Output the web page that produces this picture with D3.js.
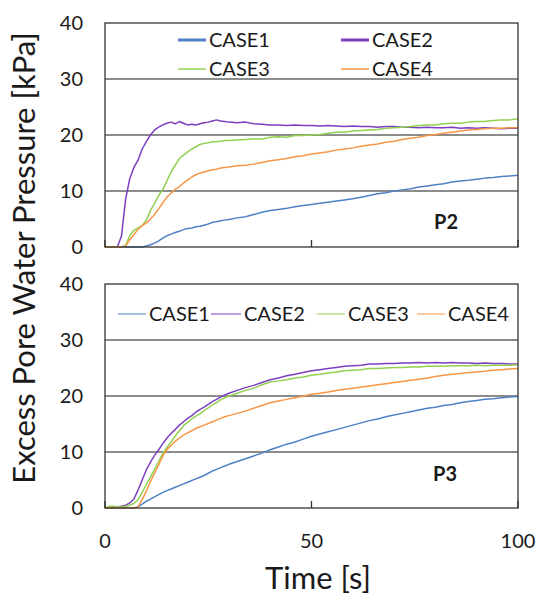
<!DOCTYPE html>
<html>
<head>
<meta charset="utf-8">
<script src="https://cdn.jsdelivr.net/npm/d3@7"></script>
<style>
  html, body { margin: 0; padding: 0; background: #ffffff; }
  svg { display: block; }
  text { font-family: Lato, "Open Sans", "Liberation Sans", sans-serif; fill: #1a1a1a; }
</style>
</head>
<body>
<svg id="chart" width="539" height="599"></svg>
<script>
// Sample times [s]
const times = [0,1,2,3,4,5,6,7,8,9,10,11,12,13,14,15,16,17,18,19,20,21,22,23,24,25,26,27,28,29,30,
  32,34,36,38,40,42,44,46,48,50,52,54,56,58,60,62,64,66,68,70,72,74,76,78,80,82,84,86,88,90,92,94,96,98,100];

const caseNames = ["CASE1", "CASE2", "CASE3", "CASE4"];
const caseColors = ["#4f81c6", "#7b3fbf", "#92d050", "#f79646"];
const xTicks = [0, 50, 100];
const yTicks = [0, 10, 20, 30, 40];

// P2 excess pore water pressure [kPa]
const p2Case1 = [0,0,0,0,0,0,0,0,0,0,0.2,0.4,0.7,1.1,1.6,2.0,2.3,2.6,2.8,3.1,3.3,3.4,3.6,3.7,3.9,4.1,4.4,4.5,4.7,4.8,4.9,
  5.2,5.4,5.8,6.2,6.5,6.7,6.9,7.2,7.4,7.6,7.8,8.0,8.2,8.4,8.6,8.9,9.2,9.5,9.7,10.0,10.2,10.4,10.7,10.9,11.1,11.3,11.6,11.8,11.9,12.1,12.3,12.4,12.6,12.7,12.8];
const p2Case2 = [0,0,0,0,2.0,8.6,12.2,14.2,15.5,17.5,18.8,20.0,20.9,21.4,21.8,22.1,22.3,22.0,22.4,22.1,21.8,21.9,21.8,22.0,22.2,22.3,22.5,22.7,22.5,22.4,22.3,
  22.2,22.3,22.0,21.9,21.8,21.8,21.7,21.8,21.7,21.7,21.6,21.7,21.6,21.5,21.6,21.5,21.5,21.4,21.5,21.5,21.4,21.4,21.3,21.4,21.3,21.3,21.4,21.2,21.3,21.2,21.3,21.2,21.1,21.2,21.2];
const p2Case3 = [0,0,0,0,0,0.3,2.0,3.0,3.4,3.8,4.8,6.5,7.8,9.2,10.3,11.8,13.4,14.6,15.8,16.4,17.0,17.5,17.9,18.3,18.5,18.6,18.8,18.8,18.9,19.0,19.0,
  19.1,19.2,19.3,19.3,19.6,19.7,19.6,19.9,19.9,20.0,20.1,20.3,20.5,20.5,20.7,20.8,20.9,21.0,21.2,21.3,21.4,21.5,21.7,21.8,21.8,22.0,22.1,22.1,22.3,22.4,22.4,22.6,22.7,22.7,22.9];
const p2Case4 = [0,0,0,0,0,0.2,1.3,2.2,3.2,3.8,4.3,5.0,5.8,6.8,7.9,8.9,9.6,10.3,10.8,11.4,12.0,12.5,12.9,13.2,13.4,13.6,13.8,13.9,14.1,14.2,14.3,
  14.5,14.6,14.8,15.1,15.4,15.6,15.8,16.1,16.3,16.6,16.8,17.0,17.3,17.5,17.7,18.0,18.2,18.4,18.7,18.9,19.2,19.4,19.6,19.9,20.1,20.3,20.5,20.7,20.9,21.0,21.1,21.2,21.2,21.3,21.3];

// P3 excess pore water pressure [kPa]
const p3Case1 = [0,0,0,0,0,0,0,0,0.2,0.7,1.2,1.6,2.0,2.4,2.8,3.1,3.4,3.7,4.0,4.3,4.6,4.9,5.2,5.5,5.8,6.2,6.6,6.9,7.2,7.5,7.8,
  8.3,8.8,9.3,9.8,10.4,10.9,11.4,11.8,12.3,12.8,13.2,13.6,14.0,14.4,14.8,15.2,15.6,15.9,16.3,16.6,16.9,17.2,17.5,17.8,18.0,18.3,18.5,18.8,19.0,19.2,19.4,19.5,19.7,19.8,19.9];
const p3Case2 = [0,0,0.1,0.2,0.3,0.5,0.9,1.6,3.2,5.0,6.8,8.2,9.4,10.4,11.5,12.5,13.3,14.0,14.8,15.4,16.0,16.5,17.1,17.6,18.0,18.5,19.0,19.4,19.8,20.2,20.5,
  21.0,21.5,21.9,22.4,22.9,23.2,23.6,23.9,24.2,24.5,24.7,24.9,25.1,25.3,25.4,25.5,25.7,25.7,25.8,25.8,25.9,25.9,26.0,25.9,26.0,25.9,26.0,25.9,25.9,25.8,25.9,25.8,25.8,25.7,25.7];
const p3Case3 = [0,0.3,0.3,0.2,0.2,0.3,0.5,0.8,1.5,2.8,4.2,5.5,6.9,8.3,9.7,10.8,11.8,12.8,13.8,14.7,15.3,15.9,16.4,16.8,17.4,17.9,18.4,18.8,19.3,19.7,20.0,
  20.5,21.0,21.4,22.0,22.5,22.7,22.9,23.2,23.4,23.7,23.9,24.1,24.3,24.5,24.6,24.7,24.9,24.9,25.0,25.1,25.1,25.2,25.2,25.3,25.3,25.3,25.4,25.4,25.4,25.5,25.4,25.5,25.5,25.5,25.6];
const p3Case4 = [0,0,0,0,0,0,0,0,0.2,1.5,3.0,4.7,6.2,7.7,9.3,10.4,11.2,11.9,12.5,13.0,13.4,13.8,14.2,14.5,14.8,15.1,15.4,15.7,16.0,16.3,16.5,
  16.9,17.3,17.8,18.3,18.8,19.1,19.4,19.7,20.0,20.3,20.5,20.7,21.0,21.2,21.4,21.6,21.8,22.0,22.2,22.4,22.6,22.8,23.0,23.2,23.5,23.7,23.9,24.0,24.2,24.3,24.4,24.6,24.7,24.8,24.9];

const svg = d3.select("#chart");
const plotLeft = 105, plotRight = 518;
const x = d3.scaleLinear().domain([0, 100]).range([plotLeft, plotRight]);

function drawPanel(opts) {
  const y = d3.scaleLinear().domain([0, 40]).range([opts.bottom, opts.top]);
  const g = svg.append("g");

  // horizontal gridlines
  g.selectAll("line.grid").data(yTicks.filter(d => d > 0 && d < 40)).enter()
    .append("line")
    .attr("x1", plotLeft).attr("x2", plotRight)
    .attr("y1", d => y(d)).attr("y2", d => y(d))
    .attr("stroke", "#1a1a1a").attr("stroke-width", 1.2);

  // data lines
  const line = d3.line().x((d, i) => x(times[i])).y(d => y(d));
  opts.series.forEach((vals, k) => {
    g.append("path")
      .attr("d", line(vals))
      .attr("fill", "none")
      .attr("stroke", caseColors[k])
      .attr("stroke-width", 1.5)
      .attr("stroke-linejoin", "round");
  });

  // frame
  g.append("rect")
    .attr("x", plotLeft).attr("y", opts.top)
    .attr("width", plotRight - plotLeft).attr("height", opts.bottom - opts.top)
    .attr("fill", "none").attr("stroke", "#333333").attr("stroke-width", 1.3);

  // inward x tick marks
  g.selectAll("line.xt").data(xTicks).enter()
    .append("line")
    .attr("x1", d => x(d)).attr("x2", d => x(d))
    .attr("y1", opts.bottom).attr("y2", opts.bottom - 7)
    .attr("stroke", "#333333").attr("stroke-width", 1.3);

  // y tick labels
  g.selectAll("text.yl").data(yTicks).enter()
    .append("text")
    .attr("x", 83).attr("y", d => y(d))
    .attr("dy", "0.35em")
    .attr("text-anchor", "end")
    .attr("font-size", 20)
    .text(d => d);

  // position label
  g.append("text")
    .attr("x", opts.labelX).attr("y", opts.labelY)
    .attr("font-size", 20).attr("font-weight", 700)
    .text(opts.label);

  // legend
  opts.legend.forEach((it, k) => {
    g.append("line")
      .attr("x1", it.x).attr("x2", it.x + it.len)
      .attr("y1", it.y).attr("y2", it.y)
      .attr("stroke", caseColors[k]).attr("stroke-width", it.w);
    g.append("text")
      .attr("x", it.x + it.len + 3).attr("y", it.y)
      .attr("dy", "0.35em")
      .attr("font-size", 20)
      .text(caseNames[k]);
  });
}

drawPanel({
  top: 23, bottom: 247,
  series: [p2Case1, p2Case2, p2Case3, p2Case4],
  label: "P2", labelX: 434, labelY: 229,
  legend: [
    { x: 178, y: 40, len: 28, w: 3 },
    { x: 341, y: 40, len: 28, w: 3 },
    { x: 178, y: 69, len: 28, w: 1.5 },
    { x: 341, y: 69, len: 28, w: 1.5 }
  ]
});

drawPanel({
  top: 284, bottom: 508,
  series: [p3Case1, p3Case2, p3Case3, p3Case4],
  label: "P3", labelX: 433, labelY: 481,
  legend: [
    { x: 118, y: 314, len: 28, w: 1 },
    { x: 211, y: 314, len: 30, w: 1 },
    { x: 317, y: 314, len: 28, w: 1 },
    { x: 417, y: 314, len: 28, w: 1 }
  ]
});

// x tick labels
svg.selectAll("text.xl").data(xTicks).enter()
  .append("text")
  .attr("x", d => x(d)).attr("y", 541)
  .attr("dy", "0.35em")
  .attr("text-anchor", "middle")
  .attr("font-size", 20)
  .text(d => d);

// axis titles
svg.append("text")
  .attr("x", 318).attr("y", 589)
  .attr("text-anchor", "middle")
  .attr("font-size", 31)
  .text("Time [s]");

svg.append("text")
  .attr("transform", "translate(35,258) rotate(-90)")
  .attr("text-anchor", "middle")
  .attr("font-size", 31)
  .text("Excess Pore Water Pressure [kPa]");
</script>
</body>
</html>
